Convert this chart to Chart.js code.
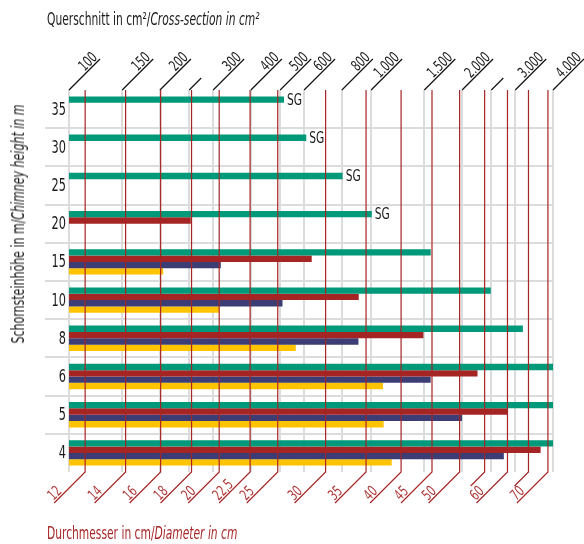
<!DOCTYPE html>
<html>
<head>
<meta charset="utf-8">
<script src="https://cdn.jsdelivr.net/npm/chart.js@4.4.1/dist/chart.umd.min.js"></script>
<style>
    body { margin: 0; background: #fff; }
    #wrap { position: relative; width: 584px; height: 544px; font-family: 'DejaVu Sans Condensed', 'Liberation Sans Narrow', sans-serif; }
    #chart { position: absolute; left: 0; top: 0; }
    .title { position: absolute; white-space: nowrap; font-size: 17px; line-height: 20px; transform-origin: 0 50%; }
    #top-title { left: 47px; top: 9px; color: #1a1a1a; transform: scaleX(0.7); }
    #bottom-title { left: 47px; top: 523px; color: #a8282a; transform: scaleX(0.7); }
    #y-title { left: 18px; top: 224px; color: #1a1a1a; transform-origin: 50% 50%; transform: translate(-50%, -50%) rotate(-90deg) scaleX(0.72); }
</style>
</head>
<body>
<div id="wrap">
    <canvas id="chart" width="584" height="544"></canvas>
    <div class="title" id="top-title">Querschnitt in cm²/<i>Cross-section in cm²</i></div>
    <div class="title" id="y-title">Schornsteinhöhe in m/<i>Chimney height in m</i></div>
    <div class="title" id="bottom-title">Durchmesser in cm/<i>Diameter in cm</i></div>
</div>
<script>
// chimney heights (m), one row each
const heights = ['35', '30', '25', '20', '15', '10', '8', '6', '5', '4'];

// cross-section in cm2
const greenValues = [515, 610, 805, 1005, 1575, 2490, 3180, 4000, 4000, 4000];
const redValues = [null, null, null, 253, 636, 910, 1490, 2250, 2825, 3640];
const blueValues = [null, null, null, null, 318, 509, 908, 1575, 2000, 2750];
const yellowValues = [null, null, null, null, 205, 314, 563, 1095, 1100, 1170];
const endLabels = ['SG', 'SG', 'SG', 'SG', '', '', '', '', '', ''];

// top axis: cross-section ticks
const crossSectionTicks = [100, 150, 200, 250, 300, 400, 500, 600, 800, 1000, 1500, 2000, 2500, 3000, 4000];
const crossSectionLabels = ['100', '150', '200', '', '300', '400', '500', '600', '800', '1.000', '1.500', '2.000', '', '3.000', '4.000'];

// bottom axis: diameter ticks (cm)
const diameterTicks = [12, 14, 16, 18, 20, 22.5, 25, 30, 35, 40, 45, 50, 55, 60, 65, 70];
const diameterLabels = ['12', '14', '16', '18', '20', '22,5', '25', '30', '35', '40', '45', '50', '', '60', '', '70'];

const FONT = "'DejaVu Sans Condensed', 'Liberation Sans Narrow', sans-serif";
const NARROW = 0.74;
const GREEN = '#00997a';
const RED = '#a52525';
const BLUE = '#3b3d74';
const YELLOW = '#ffc300';
const GRID_GRAY = '#dcdcdc';

// area of a circle with diameter d
function area(d) {
    return Math.PI * d * d / 4;
}

// text squeezed horizontally, the source uses a condensed face
function narrowText(ctx, text, x, y) {
    ctx.save();
    ctx.translate(x, y);
    ctx.scale(NARROW, 1);
    ctx.fillText(text, 0, 0);
    ctx.restore();
}

// leader lines and slanted labels for both x axes, row labels, SG notes
const leaderPlugin = {
    id: 'leaders',
    afterDraw(chart) {
        const ctx = chart.ctx;
        const ca = chart.chartArea;
        const xTop = chart.scales.x;
        const xBottom = chart.scales.x2;
        const yScale = chart.scales.y;
        ctx.save();

        // top leaders (black)
        ctx.strokeStyle = '#111';
        ctx.lineWidth = 1.2;
        ctx.fillStyle = '#1a1a1a';
        ctx.font = '15px ' + FONT;
        crossSectionTicks.forEach((v, i) => {
            const x = xTop.getPixelForValue(v);
            const len = crossSectionLabels[i] ? 31 : 12;
            ctx.beginPath();
            ctx.moveTo(x, ca.top);
            ctx.lineTo(x + len, ca.top - len);
            ctx.stroke();
            if (crossSectionLabels[i]) {
                ctx.save();
                ctx.translate(x + len, ca.top - len);
                ctx.rotate(-Math.PI / 4);
                ctx.textAlign = 'right';
                ctx.textBaseline = 'alphabetic';
                narrowText(ctx, crossSectionLabels[i], -1, -2);
                ctx.restore();
            }
        });

        // bottom leaders (red)
        ctx.strokeStyle = RED;
        ctx.fillStyle = '#b03a3a';
        diameterTicks.forEach((d, i) => {
            const x = xBottom.getPixelForValue(area(d));
            const len = diameterLabels[i] ? 31 : 14;
            ctx.beginPath();
            ctx.moveTo(x, ca.top);
            ctx.lineTo(x, ca.bottom);
            ctx.lineTo(x - len, ca.bottom + len);
            ctx.stroke();
            if (diameterLabels[i]) {
                ctx.save();
                ctx.translate(x - len, ca.bottom + len);
                ctx.rotate(-Math.PI / 4);
                ctx.textAlign = 'left';
                ctx.textBaseline = 'alphabetic';
                narrowText(ctx, diameterLabels[i], 1, -2);
                ctx.restore();
            }
        });

        // row labels
        ctx.fillStyle = '#1a1a1a';
        ctx.font = '17px ' + FONT;
        ctx.textAlign = 'right';
        ctx.textBaseline = 'middle';
        heights.forEach((h, i) => {
            narrowText(ctx, h, ca.left - 3, yScale.getPixelForTick(i) + 1);
        });

        // SG notes behind the green bars
        const meta = chart.getDatasetMeta(0);
        ctx.font = '16px ' + FONT;
        ctx.textAlign = 'left';
        endLabels.forEach((t, i) => {
            if (!t) return;
            const bar = meta.data[i];
            narrowText(ctx, t, bar.x + 3, bar.y + 1);
        });
        ctx.restore();
    }
};

const ctx = document.getElementById('chart').getContext('2d');
new Chart(ctx, {
    type: 'bar',
    data: {
        labels: heights,
        datasets: [
            { data: greenValues, backgroundColor: GREEN },
            { data: redValues, backgroundColor: RED },
            { data: blueValues, backgroundColor: BLUE },
            { data: yellowValues, backgroundColor: YELLOW }
        ]
    },
    options: {
        indexAxis: 'y',
        responsive: false,
        animation: false,
        categoryPercentage: 0.666,
        barPercentage: 1,
        layout: { padding: { left: 0, right: 31, top: 90, bottom: 72 } },
        plugins: {
            legend: { display: false },
            tooltip: { enabled: false }
        },
        scales: {
            x: {
                type: 'logarithmic',
                position: 'top',
                min: 100,
                max: 4000,
                afterBuildTicks: (scale) => {
                    scale.ticks = crossSectionTicks.map(v => ({ value: v }));
                },
                ticks: { display: false },
                grid: { color: GRID_GRAY, lineWidth: 2, drawTicks: false },
                border: { display: false }
            },
            x2: {
                type: 'logarithmic',
                position: 'bottom',
                min: 100,
                max: 4000,
                afterBuildTicks: (scale) => {
                    scale.ticks = diameterTicks.map(d => ({ value: area(d) }));
                },
                ticks: { display: false },
                grid: { display: false, drawTicks: false },
                border: { display: false }
            },
            y: {
                afterFit: (scale) => { scale.width = 69; },
                ticks: { display: false },
                grid: {
                    color: (c) => (c.type !== 'tick' || c.index === 0) ? 'rgba(0,0,0,0)' : GRID_GRAY,
                    lineWidth: 2,
                    tickLength: 24
                },
                border: { display: false }
            }
        }
    },
    plugins: [leaderPlugin]
});
</script>
</body>
</html>
